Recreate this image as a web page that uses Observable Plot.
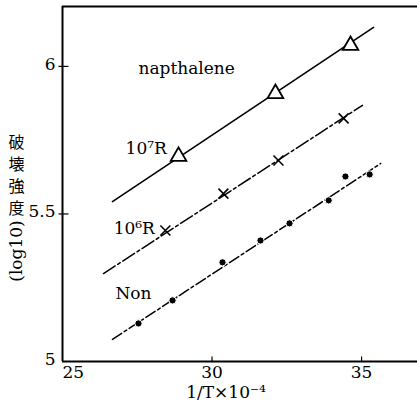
<!DOCTYPE html>
<html><head><meta charset="utf-8">
<script src="https://cdn.jsdelivr.net/npm/d3@7"></script>
<script src="https://cdn.jsdelivr.net/npm/@observablehq/plot@0.6"></script>
<style>
body{margin:0;background:#fff}
#chart svg{display:block;background:#fff}
</style>
</head><body><div id="chart"></div>
<script>
// axis ticks
const xTicks = [25, 30, 35];
const yTicks = [5, 5.5, 6];
const yTickLabels = ["5", "5.5", "6"];

// series: 10^7 R (triangles)
const r7X = [28.88, 32.12, 34.63];
const r7Y = [5.695, 5.908, 6.071];
// series: 10^6 R (crosses)
const r6X = [28.44, 30.38, 32.22, 34.40];
const r6Y = [5.444, 5.569, 5.681, 5.824];
// series: Non (dots)
const nonX = [27.54, 28.68, 30.35, 31.62, 32.59, 33.90, 34.46, 35.27];
const nonY = [5.129, 5.207, 5.336, 5.410, 5.468, 5.546, 5.627, 5.634];

// fitted lines (end points)
const fit7X = [26.67, 35.40], fit7Y = [5.542, 6.132];
const fit6X = [26.37, 35.03], fit6Y = [5.298, 5.868];
const fitNX = [26.67, 35.64], fitNY = [5.075, 5.671];

// annotations
const annoText = ["napthalene", "10⁷R", "10⁶R", "Non"];
const annoX = [27.54, 27.11, 26.71, 26.77];
const annoY = [5.993, 5.722, 5.451, 5.231];

const xLabel = "1/T×10⁻⁴";
const yLabelCJK = "破壊強度";
const yLabelLatin = "(log10)";

const pts = (xs, ys) => xs.map((x, i) => ({x, y: ys[i]}));
const serif = "DejaVu Serif, Liberation Serif, serif";

// tick-mark symbols
const vTick = {draw(ctx) { ctx.moveTo(0, 0); ctx.lineTo(0, -5); }};
const hTick = {draw(ctx) { ctx.moveTo(-4, 0); ctx.lineTo(6, 0); }};

const plot = Plot.plot({
  width: 417,
  height: 405,
  marginLeft: 62,
  marginRight: 0,
  marginTop: 6,
  marginBottom: 44,
  style: {fontFamily: serif, background: "#fff", color: "#000"},
  x: {domain: [25, 36.87], axis: null},
  y: {domain: [5, 6.203], axis: null},
  marks: [
    // frame
    Plot.ruleX([25], {stroke: "#000", strokeWidth: 2}),
    Plot.ruleY([5], {stroke: "#000", strokeWidth: 2}),
    Plot.ruleY([6.203], {stroke: "#000", strokeWidth: 2}),
    // ticks
    Plot.dot(xTicks.slice(1), {x: d => d, y: 5, symbol: vTick, stroke: "#000", strokeWidth: 1.2}),
    Plot.dot(yTicks.slice(1), {x: 25, y: d => d, symbol: hTick, stroke: "#000", strokeWidth: 1.2}),
    // tick labels
    Plot.text(xTicks.slice(0, 1), {x: d => d, y: 5, dy: 11, textAnchor: "start", text: d => String(d), fontSize: 17, fontFamily: serif}),
    Plot.text(xTicks.slice(1), {x: d => d, y: 5, dy: 11, text: d => String(d), fontSize: 17, fontFamily: serif}),
    Plot.text(yTicks, {x: 25, y: d => d, dx: -7, dy: -2, textAnchor: "end", text: (d, i) => yTickLabels[i], fontSize: 17, fontFamily: serif}),
    // fitted lines
    Plot.line(pts(fit7X, fit7Y), {x: "x", y: "y", stroke: "#000", strokeWidth: 1.6}),
    Plot.line(pts(fit6X, fit6Y), {x: "x", y: "y", stroke: "#000", strokeWidth: 1.5, strokeDasharray: "14,3,3,3"}),
    Plot.line(pts(fitNX, fitNY), {x: "x", y: "y", stroke: "#000", strokeWidth: 1.5, strokeDasharray: "11,3,3,3"}),
    // markers
    Plot.dot(pts(r7X, r7Y), {x: "x", y: "y", symbol: "triangle", r: 5.8, fill: "#fff", stroke: "#000", strokeWidth: 1.8}),
    Plot.dot(pts(r6X, r6Y), {x: "x", y: "y", symbol: "times", r: 4.6, stroke: "#000", strokeWidth: 1.6}),
    Plot.dot(pts(nonX, nonY), {x: "x", y: "y", r: 3.6, fill: "#000", stroke: "#fff", strokeWidth: 1}),
    // annotations
    Plot.text(annoText, {x: (d, i) => annoX[i], y: (d, i) => annoY[i], text: d => d, textAnchor: "start", fontSize: 17, fontFamily: serif}),
    // axis titles
    Plot.text([xLabel], {frameAnchor: "bottom", dx: -14, dy: 31, textAnchor: "middle", lineAnchor: "middle", text: d => d, fontSize: 17, fontFamily: serif}),
    Plot.text([yLabelCJK.split("").join("\n")], {frameAnchor: "left", dx: -46, dy: -10, textAnchor: "middle", lineAnchor: "middle", lineHeight: 1.38, text: d => d, fontSize: 16, fontFamily: "Noto Sans CJK JP"}),
    Plot.text([yLabelLatin], {frameAnchor: "left", dx: -46, dy: 67, rotate: -90, textAnchor: "middle", lineAnchor: "middle", text: d => d, fontSize: 17, fontFamily: serif})
  ]
});
document.getElementById("chart").appendChild(plot);
</script>
</body></html>
